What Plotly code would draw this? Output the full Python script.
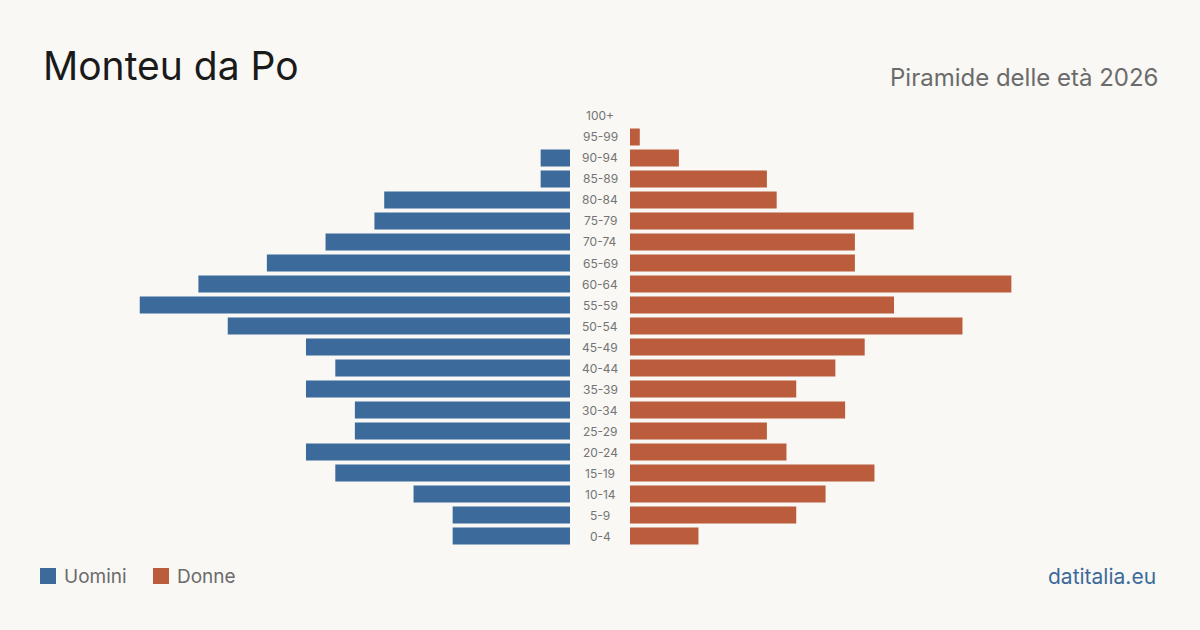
import plotly.graph_objects as go

age_groups = ["0-4", "5-9", "10-14", "15-19", "20-24", "25-29", "30-34", "35-39",
              "40-44", "45-49", "50-54", "55-59", "60-64", "65-69", "70-74", "75-79",
              "80-84", "85-89", "90-94", "95-99", "100+"]
uomini = [12, 12, 16, 24, 27, 22, 22, 27, 24, 27, 35, 44, 38, 31, 25, 20, 19, 3, 3, 0, 0]
donne = [7, 17, 20, 25, 16, 14, 22, 17, 21, 24, 34, 27, 39, 23, 23, 29, 15, 14, 5, 1, 0]

W, H = 1200, 630
BLUE = "#3b6a9b"
ORANGE = "#bb5c3c"
BG = "#f9f8f4"
GREY = "#6b6b6b"

def px(x):
    return x / W

def py(y):
    return 1 - y / H

XMAX = 54.2

fig = go.Figure()
fig.add_trace(go.Bar(y=age_groups, x=uomini, orientation="h", marker=dict(color=BLUE, line=dict(width=0)),
                     xaxis="x", yaxis="y", name="Uomini", showlegend=False, hoverinfo="x+y"))
fig.add_trace(go.Bar(y=age_groups, x=donne, orientation="h", marker=dict(color=ORANGE, line=dict(width=0)),
                     xaxis="x2", yaxis="y2", name="Donne", showlegend=False, hoverinfo="x+y"))

ydom = [py(546.5), py(105.5)]
fig.update_layout(
    width=W, height=H,
    margin=dict(l=0, r=0, t=0, b=0),
    paper_bgcolor=BG, plot_bgcolor=BG,
    bargap=0.19,
    font=dict(family="Inter, sans-serif", color=GREY),
    xaxis=dict(domain=[px(40), px(570)], range=[XMAX, 0], visible=False, fixedrange=True),
    xaxis2=dict(domain=[px(630), px(1160)], range=[0, XMAX], visible=False, fixedrange=True),
    yaxis=dict(domain=ydom, anchor="x", visible=False, categoryorder="array",
               categoryarray=age_groups, range=[-0.5, 20.5]),
    yaxis2=dict(domain=ydom, anchor="x2", visible=False, categoryorder="array",
                categoryarray=age_groups, range=[-0.5, 20.5]),
)

annotations = []
for ag in age_groups:
    annotations.append(dict(x=0.5, xref="paper", y=ag, yref="y", text=ag, showarrow=False,
                            xanchor="center", yanchor="middle",
                            font=dict(size=12, color="#747474", family="Inter, sans-serif")))

annotations += [
    dict(x=px(41), y=py(66), xref="paper", yref="paper", text="Monteu da Po", showarrow=False,
         xanchor="left", yanchor="middle", font=dict(size=39, color="#1a1a1a", family="Inter, sans-serif")),
    dict(x=px(1160), y=py(77), xref="paper", yref="paper", text="Piramide delle età 2026", showarrow=False,
         xanchor="right", yanchor="middle", font=dict(size=24, color=GREY, family="Inter, sans-serif")),
    dict(x=px(62), y=py(576), xref="paper", yref="paper", text="Uomini", showarrow=False,
         xanchor="left", yanchor="middle", font=dict(size=19, color=GREY, family="Inter, sans-serif")),
    dict(x=px(175), y=py(576), xref="paper", yref="paper", text="Donne", showarrow=False,
         xanchor="left", yanchor="middle", font=dict(size=19, color=GREY, family="Inter, sans-serif")),
    dict(x=px(1158), y=py(576), xref="paper", yref="paper", text="datitalia.eu", showarrow=False,
         xanchor="right", yanchor="middle", font=dict(size=21, color=BLUE, family="Inter, sans-serif")),
]

shapes = [
    dict(type="rect", xref="paper", yref="paper", x0=px(40), x1=px(56), y0=py(584), y1=py(568),
         fillcolor=BLUE, line=dict(width=0)),
    dict(type="rect", xref="paper", yref="paper", x0=px(153), x1=px(169), y0=py(584), y1=py(568),
         fillcolor=ORANGE, line=dict(width=0)),
]

fig.update_layout(annotations=annotations, shapes=shapes)
fig.write_html("out.html")
